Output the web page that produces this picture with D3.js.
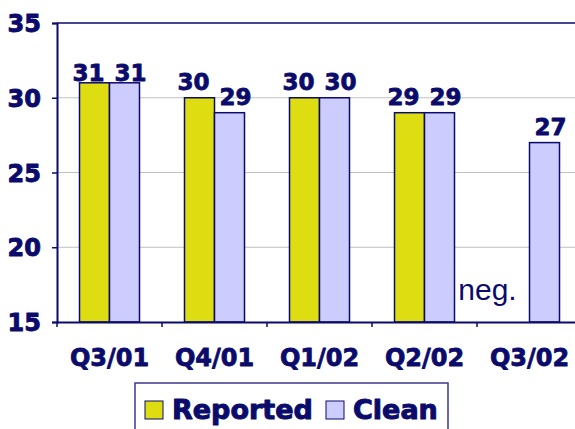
<!DOCTYPE html>
<html>
<head>
<meta charset="utf-8">
<script src="https://cdn.jsdelivr.net/npm/d3@7"></script>
<style>
  html, body { margin: 0; padding: 0; background: #fff; }
  svg { display: block; font-family: "DejaVu Sans", Verdana, sans-serif; }
</style>
</head>
<body>
<svg id="chart" width="575" height="429"></svg>
<script>
const quarters = ["Q3/01", "Q4/01", "Q1/02", "Q2/02", "Q3/02"];
const reported = [31, 30, 30, 29, null];
const clean = [31, 29, 30, 29, 27];
const yTicks = [15, 20, 25, 30, 35];
const seriesNames = ["Reported", "Clean"];

const width = 575,
  navy = "#0b0b6b",
  colors = ["#dddd11", "#ccccff"],
  plot = { left: 57, top: 23, right: 582, bottom: 322 },
  barWidth = 30,
  labelShift = [-6, 6];

const svg = d3.select("#chart");

const x = d3.scaleBand().domain(quarters).range([plot.left, plot.right]);
const y = d3.scaleLinear().domain([15, 35]).range([plot.bottom, plot.top]);

// bold text in the original is heavier than DejaVu Bold, thicken a bit
const heavy = (sel, w) =>
  sel
    .attr("font-weight", "bold")
    .attr("fill", navy)
    .attr("stroke", navy)
    .attr("stroke-width", w)
    .attr("stroke-linejoin", "round");

// gridlines
svg
  .append("g")
  .selectAll("line")
  .data(yTicks.filter(d => d > 15 && d < 35))
  .enter()
  .append("line")
  .attr("x1", plot.left)
  .attr("x2", width)
  .attr("y1", d => y(d))
  .attr("y2", d => y(d))
  .attr("stroke", "#c0c0c0")
  .attr("stroke-width", 1);

// top border
svg
  .append("line")
  .attr("x1", plot.left)
  .attr("x2", width)
  .attr("y1", plot.top)
  .attr("y2", plot.top)
  .attr("stroke", navy)
  .attr("stroke-width", 1.5);

// bars + value labels
const series = [reported, clean];
series.forEach((values, s) => {
  const rows = quarters
    .map((q, i) => ({ q, v: values[i] }))
    .filter(d => d.v != null);
  const offset = s === 0 ? -barWidth : 0;
  const g = svg.append("g");
  g.selectAll("rect")
    .data(rows)
    .enter()
    .append("rect")
    .attr("x", d => x(d.q) + x.bandwidth() / 2 + offset)
    .attr("y", d => y(d.v))
    .attr("width", barWidth)
    .attr("height", d => y(15) - y(d.v))
    .attr("fill", colors[s])
    .attr("stroke", navy)
    .attr("stroke-width", 1.5);
  g.selectAll("text")
    .data(rows)
    .enter()
    .append("text")
    .attr("x", d => x(d.q) + x.bandwidth() / 2 + offset + barWidth / 2 + labelShift[s])
    .attr("y", d => Math.max(y(d.v) - 8, 81))
    .attr("text-anchor", "middle")
    .attr("font-size", 23)
    .call(heavy, 0.8)
    .text(d => d.v);
});

// "neg." note where the reported bar is missing
svg
  .append("text")
  .attr("x", x("Q3/02") + x.bandwidth() / 2 - 42)
  .attr("y", y(15) - 22)
  .attr("text-anchor", "middle")
  .attr("font-family", "Liberation Sans, Arial, sans-serif")
  .attr("font-size", 30)
  .attr("fill", navy)
  .text("neg.");

// y axis
const yAxis = svg
  .append("g")
  .attr("transform", `translate(${plot.left},0)`)
  .call(d3.axisLeft(y).tickValues(yTicks).tickSize(5).tickPadding(11));
yAxis.select(".domain").attr("stroke", navy).attr("stroke-width", 2);
yAxis.selectAll(".tick line").attr("stroke", navy).attr("stroke-width", 1.5);
yAxis
  .selectAll(".tick text")
  .attr("font-family", "DejaVu Sans, Verdana, sans-serif")
  .attr("font-size", 24)
  .attr("dy", "0.36em")
  .call(heavy, 0.9);

// x axis
const xAxis = svg
  .append("g")
  .attr("transform", `translate(0,${plot.bottom})`)
  .call(d3.axisBottom(x).tickSize(0).tickPadding(27));
xAxis.select(".domain").attr("stroke", navy).attr("stroke-width", 2);
xAxis
  .selectAll(".tick text")
  .attr("font-family", "DejaVu Sans, Verdana, sans-serif")
  .attr("font-size", 24)
  .call(heavy, 0.8);
// category separators
svg
  .append("g")
  .selectAll("line")
  .data(quarters)
  .enter()
  .append("line")
  .attr("x1", d => x(d))
  .attr("x2", d => x(d))
  .attr("y1", plot.bottom)
  .attr("y2", plot.bottom + 5)
  .attr("stroke", navy)
  .attr("stroke-width", 1.5);

// legend
const legend = svg.append("g").attr("transform", "translate(135,383)");
legend
  .append("path")
  .attr("d", "M0,50V0H313V50")
  .attr("fill", "#fff")
  .attr("stroke", "#3a3a8c")
  .attr("stroke-width", 1.5);
const legendX = [10, 191];
const item = legend
  .selectAll(".item")
  .data(seriesNames)
  .enter()
  .append("g")
  .attr("class", "item")
  .attr("transform", (d, i) => `translate(${legendX[i]},0)`);
item
  .append("rect")
  .attr("x", 0)
  .attr("y", 18)
  .attr("width", 18)
  .attr("height", 18)
  .attr("fill", (d, i) => colors[i])
  .attr("stroke", navy)
  .attr("stroke-width", 1);
item
  .append("text")
  .attr("x", 27)
  .attr("y", 36)
  .attr("font-size", 27)
  .call(heavy, 1)
  .text(d => d);
</script>
</body>
</html>
